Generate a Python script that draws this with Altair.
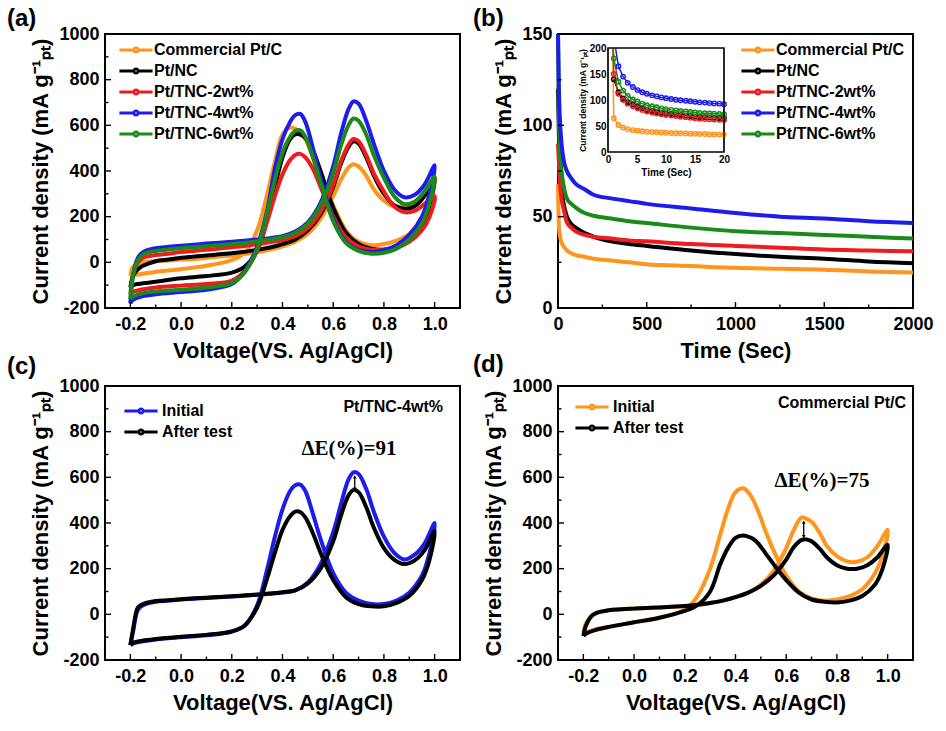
import altair as alt
import pandas as pd

FONT = "Liberation Sans"
SERIF = "Liberation Serif"
W, H = 355, 274
YTITLE = "Current density (mA g\u207b\u00b9\u209a\u209c)"

# ---- series names and colours ----
SERIES = ["Commercial Pt/C", "Pt/NC", "Pt/TNC-2wt%", "Pt/TNC-4wt%", "Pt/TNC-6wt%"]
SERIES_COLORS = ["#FF951C", "#000000", "#EE1C1C", "#1C1CEB", "#1B8A1B"]
RUNS = ["Initial", "After test"]

# ---- CV voltage grids (forward scan, then backward scan) ----
V_FWD = [-0.2, -0.19, -0.17, -0.15, -0.1, -0.05, 0.0, 0.05, 0.1, 0.15, 0.2, 0.25, 0.3,
         0.35, 0.4, 0.45, 0.5, 0.55, 0.6, 0.63, 0.66, 0.68, 0.7, 0.73, 0.76, 0.8, 0.84,
         0.88, 0.92, 0.96, 1.0]
V_BWD = [0.98, 0.95, 0.9, 0.85, 0.8, 0.75, 0.7, 0.65, 0.6, 0.55, 0.52, 0.49, 0.47, 0.45,
         0.43, 0.4, 0.37, 0.34, 0.3, 0.25, 0.2, 0.1, 0.0, -0.1, -0.15, -0.19, -0.2]

# (a) CV curves of all catalysts
A_FWD = {
    "Commercial Pt/C": [-60, -20, -5, 0, 5, 8, 12, 15, 20, 25, 30, 36, 44, 55, 70, 90, 125, 190,
                        290, 360, 415, 430, 420, 380, 320, 270, 245, 245, 260, 300, 375],
    "Pt/NC": [-110, -60, -30, -15, 5, 12, 20, 25, 30, 35, 40, 46, 55, 65, 80, 100, 140, 210,
              330, 430, 505, 530, 520, 460, 380, 300, 250, 235, 245, 290, 370],
    "Pt/TNC-2wt%": [-140, -60, 0, 20, 32, 38, 45, 50, 55, 60, 66, 72, 80, 88, 98, 115, 150, 220,
                    340, 440, 515, 540, 530, 470, 390, 310, 245, 220, 225, 255, 290],
    "Pt/TNC-4wt%": [-180, -60, 20, 45, 62, 68, 73, 77, 82, 86, 90, 95, 100, 106, 115, 135, 175,
                    260, 420, 560, 670, 705, 695, 620, 520, 400, 320, 285, 295, 340, 425],
    "Pt/TNC-6wt%": [-160, -60, 10, 35, 50, 56, 62, 66, 70, 75, 80, 85, 92, 100, 110, 130, 170,
                    250, 390, 510, 600, 630, 620, 560, 470, 370, 290, 255, 265, 310, 375],
}
A_BWD = {
    "Commercial Pt/C": [270, 190, 125, 95, 80, 75, 90, 140, 250, 380, 460, 540, 570, 585, 590,
                        560, 440, 300, 140, 40, 10, -15, -30, -42, -50, -58, -60],
    "Pt/NC": [250, 160, 95, 65, 55, 60, 80, 130, 240, 400, 490, 545, 560, 560, 540, 460, 330,
              190, 50, -20, -45, -60, -70, -85, -92, -100, -110],
    "Pt/TNC-2wt%": [200, 140, 90, 65, 55, 55, 70, 110, 200, 330, 410, 460, 475, 470, 448, 385,
                    290, 180, 50, -40, -80, -95, -102, -110, -118, -130, -140],
    "Pt/TNC-4wt%": [300, 200, 120, 75, 55, 45, 55, 90, 190, 370, 500, 615, 650, 645, 615, 540,
                    410, 230, 70, -40, -95, -120, -130, -140, -148, -165, -180],
    "Pt/TNC-6wt%": [260, 170, 100, 60, 42, 38, 50, 85, 180, 350, 460, 550, 578, 575, 550, 480,
                    360, 220, 60, -45, -90, -110, -120, -128, -135, -150, -160],
}
A_DRAW = ["Commercial Pt/C", "Pt/NC", "Pt/TNC-2wt%", "Pt/TNC-4wt%", "Pt/TNC-6wt%"]

# (c) Pt/TNC-4wt% before / after durability test
C_FWD = {
    "Initial": [-135, -80, 20, 40, 55, 60, 65, 68, 72, 75, 78, 82, 86, 90, 95, 105, 140, 220,
                360, 480, 590, 622, 615, 550, 450, 340, 270, 240, 260, 310, 400],
    "After test": [-135, -70, 30, 45, 58, 62, 66, 70, 73, 76, 79, 83, 87, 91, 97, 105, 135, 200,
                   320, 430, 520, 545, 535, 470, 380, 290, 240, 220, 235, 280, 365],
}
C_BWD = {
    "Initial": [270, 170, 95, 60, 45, 45, 60, 95, 180, 330, 440, 540, 568, 565, 540, 460, 340,
                200, 40, -50, -75, -92, -100, -110, -118, -128, -135],
    "After test": [240, 150, 80, 50, 35, 35, 45, 75, 150, 270, 355, 425, 448, 450, 430, 370,
                   270, 160, 30, -50, -75, -90, -98, -108, -115, -125, -135],
}

# (d) Commercial Pt/C before / after durability test
D_FWD = {
    "Initial": [-80, -40, -10, 5, 18, 22, 25, 28, 30, 33, 36, 42, 50, 60, 75, 95, 130, 190,
                290, 370, 424, 418, 405, 360, 300, 255, 232, 230, 250, 300, 370],
    "After test": [-95, -50, -10, 5, 18, 22, 25, 28, 30, 33, 36, 42, 50, 60, 75, 95, 125, 170,
                   240, 295, 325, 328, 320, 290, 250, 215, 200, 200, 215, 250, 305],
}
D_BWD = {
    "Initial": [260, 180, 110, 80, 65, 60, 70, 100, 170, 280, 360, 450, 500, 535, 552, 535, 460,
                350, 200, 80, 20, -15, -35, -55, -65, -78, -82],
    "After test": [200, 130, 80, 60, 52, 55, 65, 95, 150, 220, 265, 310, 330, 340, 345, 335,
                   290, 220, 100, 40, 15, -15, -35, -55, -68, -85, -95],
}

# (b) chronoamperometry
T_MAIN = [0, 5, 10, 20, 30, 50, 75, 100, 150, 200, 300, 400, 500, 750, 1000, 1250, 1500,
          1750, 2000]
B_MAIN = {
    "Commercial Pt/C": [68, 45, 40, 36, 34, 31.5, 30, 29, 28, 27, 26, 25, 24, 23, 22, 21.5, 21,
                        20, 19.5],
    "Pt/NC": [120, 95, 80, 65, 58, 50, 46, 44, 41, 39, 36.5, 35, 34, 31.5, 29.5, 28, 27, 25.5,
              24.5],
    "Pt/TNC-2wt%": [90, 80, 70, 60, 55, 47, 44, 42, 40, 39, 38, 37, 36.5, 35, 34, 33, 32, 31.5,
                    31],
    "Pt/TNC-6wt%": [150, 105, 88, 75, 68, 60, 57, 55, 52, 50.5, 49, 47.5, 46.5, 44, 42, 41, 40,
                    39, 38],
    "Pt/TNC-4wt%": [150, 120, 105, 90, 82, 75, 71, 68, 65, 62, 60, 58.5, 57, 54.5, 52, 50, 49,
                    47.5, 46.5],
}

# (b) inset: first 20 s
T_INSET = [1.0, 1.8, 2.6, 3.4, 4.3, 5.1, 5.9, 6.7, 7.6, 8.4, 9.2, 10.0, 10.9, 11.7, 12.5, 13.4,
           14.2, 15.0, 15.8, 16.7, 17.5, 18.3, 19.2, 20.0]
B_INSET = {
    "Commercial Pt/C": [65, 52, 47, 44, 42, 41, 40, 39, 38.5, 38, 37.5, 37, 36.5, 36, 36, 35.5,
                        35, 35, 34.5, 34.5, 34, 34, 33.5, 33.5],
    "Pt/NC": [140, 115, 103, 96, 91, 87, 84, 81, 79, 77, 75.5, 74, 73, 72, 71, 70, 69, 68, 67.5,
              67, 66.5, 66, 65.5, 65],
    "Pt/TNC-2wt%": [150, 112, 100, 93, 88, 84, 81, 78, 76, 74, 72.5, 71, 70, 69, 68, 67, 66, 65,
                    64, 63.5, 63, 62.5, 62, 61.5],
    "Pt/TNC-6wt%": [180, 135, 118, 108, 101, 97, 93, 90, 88, 86, 84, 82.5, 81, 80, 79, 78, 77,
                    76, 75, 74.5, 74, 73.5, 73, 72.5],
    "Pt/TNC-4wt%": [None, 165, 145, 133, 125, 119, 115, 112, 109, 107, 105, 103.5, 102, 100.5,
                    99.5, 98.5, 97.5, 96.5, 95.5, 95, 94, 93.5, 93, 92],
}
# where each inset curve enters through the top edge (time in s, current)
INSET_ENTRY = {
    "Commercial Pt/C": (0.8, 200),
    "Pt/TNC-2wt%": (0.9, 200),
    "Pt/TNC-6wt%": (0.9, 200),
    "Pt/TNC-4wt%": (1.3, 200),
}

# ---- axis tick positions ----
V_LABELS = [-0.2, 0.0, 0.2, 0.4, 0.6, 0.8, 1.0]
V_MINOR = [-0.1, 0.1, 0.3, 0.5, 0.7, 0.9]
J_LABELS = [-200, 0, 200, 400, 600, 800, 1000]
J_MINOR = [-100, 100, 300, 500, 700, 900]
T_LABELS = [0, 500, 1000, 1500, 2000]
T_MINOR = [250, 750, 1250, 1750]
JB_LABELS = [0, 50, 100, 150]
JB_MINOR = [25, 75, 125]

LEGEND_SYMBOL = "M-5,0H-0.65M0.65,0H5M0.65,0A0.65,0.65,0,1,1,-0.65,0A0.65,0.65,0,1,1,0.65,0"
MINUS_FIX = "replace(datum.label, '\u2212', '-')"
LINE_W = 4


def cv_frame(fwd, bwd, order):
    rows = []
    for name in order:
        k = 0
        for v, j in zip(V_FWD, fwd[name]):
            rows.append({"series": name, "V": v, "J": j, "k": k})
            k += 1
        for v, j in zip(V_BWD, bwd[name]):
            rows.append({"series": name, "V": v, "J": j, "k": k})
            k += 1
    return pd.DataFrame(rows)


def make_legend(x, y, offset=10):
    return alt.Legend(
        orient="none", legendX=x, legendY=y, title=None, padding=0,
        symbolType=LEGEND_SYMBOL, symbolSize=44, symbolStrokeWidth=2.8,
        symbolFillColor="white", labelFont=FONT, labelFontSize=16,
        labelFontWeight="bold", labelColor="black", labelOffset=offset, rowPadding=5,
    )


def axis(title, values, fmt=None, **kw):
    opts = dict(title=title, values=values, ticks=False, domain=False, grid=False,
                labelFlush=False, labelOverlap=False, labelExpr=MINUS_FIX)
    if fmt:
        opts["format"] = fmt
    opts.update(kw)
    return alt.Axis(**opts)


def inward_ticks(major, minor, orient, enc):
    field = enc.shorthand.split(":")[0]
    layers = []
    for vals, size in ((major, 6), (minor, 3.5)):
        base = alt.Chart(pd.DataFrame({field: vals})).mark_rule(color="black", strokeWidth=1.4)
        if orient == "x":
            layers.append(base.encode(x=enc, y=alt.value(H), y2=alt.value(H - size)))
        else:
            layers.append(base.encode(y=enc, x=alt.value(0), x2=alt.value(size)))
    return layers


def label(text, x, y, size=24, font=FONT, align="left"):
    return alt.Chart(pd.DataFrame({"s": [text]})).mark_text(
        font=font, fontSize=size, fontWeight="bold", color="black", align=align,
        baseline="middle",
    ).encode(x=alt.value(x), y=alt.value(y), text="s:N")


X_CV = alt.X("V:Q", scale=alt.Scale(domain=[-0.3, 1.1], nice=False, zero=False),
             axis=axis("Voltage(VS. Ag/AgCl)", V_LABELS, ".1f", labelPadding=7, titlePadding=7))
Y_CV = alt.Y("J:Q", scale=alt.Scale(domain=[-200, 1000], nice=False, zero=False),
             axis=axis(YTITLE, J_LABELS, "d", labelPadding=6, titlePadding=6))


def cv_panel(df, domain, colors, legend, tag, extras):
    lines = alt.Chart(df).mark_line(strokeWidth=LINE_W, interpolate="catmull-rom", clip=True).encode(
        x=X_CV, y=Y_CV,
        color=alt.Color("series:N", scale=alt.Scale(domain=domain, range=colors), legend=legend),
        order="k:Q",
    )
    layers = [lines] + inward_ticks(V_LABELS, V_MINOR, "x", X_CV) + \
        inward_ticks(J_LABELS, J_MINOR, "y", Y_CV) + extras + [tag]
    return alt.layer(*layers).properties(width=W, height=H)


def peak_arrow(v, lo, hi):
    d = pd.DataFrame({"V": [v], "J": [lo], "J2": [hi]})
    stem = alt.Chart(d).mark_rule(color="black", strokeWidth=1.3).encode(
        x=X_CV, y=Y_CV, y2="J2:Q")
    up = alt.Chart(pd.DataFrame({"V": [v], "J": [hi]})).mark_point(
        shape="triangle-up", filled=True, color="black", size=14, opacity=1).encode(x=X_CV, y=Y_CV)
    down = alt.Chart(pd.DataFrame({"V": [v], "J": [lo]})).mark_point(
        shape="triangle-down", filled=True, color="black", size=14, opacity=1).encode(x=X_CV, y=Y_CV)
    return [stem, up, down]


# ---- (a) ----
panel_a = cv_panel(
    cv_frame(A_FWD, A_BWD, A_DRAW), SERIES, SERIES_COLORS, make_legend(23, 8),
    label("(a)", -98, -15), [],
)

# ---- (c) ----
panel_c = cv_panel(
    cv_frame(C_FWD, C_BWD, RUNS), RUNS, ["#1C1CEB", "#000000"], make_legend(28, 17, 13),
    label("(c)", -98, -19),
    peak_arrow(0.685, 548, 602)
    + [label("Pt/TNC-4wt%", 338, 21, size=16, align="right"),
       label("\u0394E(%)=91", 244, 63, size=21, font=SERIF, align="center")],
)

# ---- (d) ----
panel_d = cv_panel(
    cv_frame(D_FWD, D_BWD, RUNS), RUNS, ["#FF951C", "#000000"], make_legend(26, 13, 13),
    label("(d)", -85, -21),
    peak_arrow(0.669, 340, 404)
    + [label("Commercial Pt/C", 348, 17, size=16, align="right"),
       label("\u0394E(%)=75", 264, 95, size=21, font=SERIF, align="center")],
)

# ---- (b) ----
b_rows = [{"series": s, "t": t, "J": j} for s in B_MAIN for t, j in zip(T_MAIN, B_MAIN[s])]
b_df = pd.DataFrame(b_rows)
legend_b = make_legend(192, 8)
color_b = alt.Color("series:N", scale=alt.Scale(domain=SERIES, range=SERIES_COLORS),
                    legend=legend_b)

X_T = alt.X("t:Q", scale=alt.Scale(domain=[0, 2000], nice=False, zero=False),
            axis=axis("Time (Sec)", T_LABELS, "d", labelPadding=7, titlePadding=7))
Y_B = alt.Y("J:Q", scale=alt.Scale(domain=[0, 150], nice=False, zero=False),
            axis=axis(YTITLE, JB_LABELS, "d", labelPadding=6, titlePadding=6))

b_lines = alt.Chart(b_df).mark_line(strokeWidth=LINE_W, interpolate="monotone").encode(
    x=X_T, y=Y_B, color=color_b, order="t:Q")

main_b = alt.layer(
    b_lines,
    *inward_ticks(T_LABELS, T_MINOR, "x", X_T),
    *inward_ticks(JB_LABELS, JB_MINOR, "y", Y_B),
    label("(b)", -85, -15),
)

# inset placed in the upper middle of panel (b) through its own pixel ranges
inset_rows, inset_pts = [], []
for s in B_INSET:
    k = 0
    if s in INSET_ENTRY:
        t0, j0 = INSET_ENTRY[s]
        inset_rows.append({"series": s, "ts": t0, "js": j0, "k": k})
        k += 1
    for t, j in zip(T_INSET, B_INSET[s]):
        if j is None:
            continue
        inset_rows.append({"series": s, "ts": t, "js": j, "k": k})
        inset_pts.append({"series": s, "ts": t, "js": j})
        k += 1
inset_df = pd.DataFrame(inset_rows)
inset_pt_df = pd.DataFrame(inset_pts)

X_IN = alt.X("ts:Q", scale=alt.Scale(domain=[0, 20], range=[50, 166], nice=False, zero=False),
             axis=alt.Axis(orient="bottom", offset=-156, title="Time (Sec)",
                           values=[0, 5, 10, 15, 20], ticks=False, domain=False, grid=False,
                           labelFlush=False, labelOverlap=False, labelFontSize=10,
                           titleFontSize=10, labelPadding=2, titlePadding=3))
Y_IN = alt.Y("js:Q", scale=alt.Scale(domain=[0, 200], range=[118, 14], nice=False, zero=False),
             axis=alt.Axis(orient="left", offset=-50, title=YTITLE,
                           values=[0, 50, 100, 150, 200], ticks=False, domain=False, grid=False,
                           labelFlush=False, labelOverlap=False, labelFontSize=10,
                           titleFontSize=8.5, labelPadding=2, titlePadding=2))

box_df = pd.DataFrame({"ts": [0], "ts2": [20], "js": [0], "js2": [200]})
inset_box = alt.Chart(box_df).mark_rect(fill="white", stroke="black", strokeWidth=1.2).encode(
    x=X_IN, x2="ts2:Q", y=Y_IN, y2="js2:Q")
inset_lines = alt.Chart(inset_df).mark_line(strokeWidth=1.5).encode(
    x=X_IN, y=Y_IN, color=color_b, order="k:Q")
inset_marks = alt.Chart(inset_pt_df).mark_point(
    shape="circle", filled=False, size=20, strokeWidth=1.4, opacity=1).encode(
    x=X_IN, y=Y_IN, color=color_b)
inset_outline = alt.Chart(box_df).mark_rect(fill=None, stroke="black", strokeWidth=1.2).encode(
    x=X_IN, x2="ts2:Q", y=Y_IN, y2="js2:Q")

inset = alt.layer(inset_box, inset_lines, inset_marks, inset_outline)

panel_b = alt.layer(main_b, inset).resolve_scale(
    x="independent", y="independent").properties(width=W, height=H)

chart = alt.concat(
    panel_a, panel_b, panel_c, panel_d,
    columns=2, spacing=alt.RowColnumber(row=78, column=98), bounds="flush",
).resolve_scale(color="independent").properties(
    padding={"left": 6, "top": 6, "right": 4, "bottom": 4},
    background="white",
).configure_view(
    stroke="black", strokeWidth=2,
).configure_axis(
    labelFont=FONT, labelFontSize=18, labelFontWeight="bold", labelColor="black",
    titleFont=FONT, titleFontSize=22, titleFontWeight="bold", titleColor="black",
)

chart.save("out.html", embed_options={"renderer": "svg", "actions": False})
